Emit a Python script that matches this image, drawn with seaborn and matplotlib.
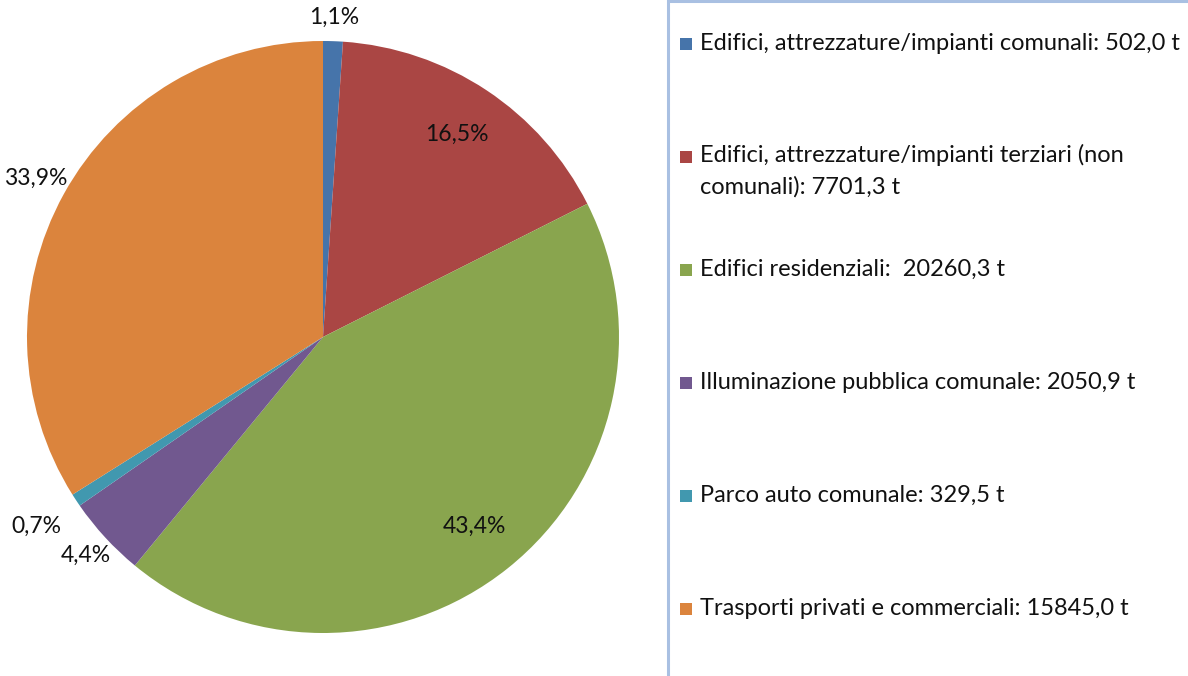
import numpy as np
import matplotlib
matplotlib.use("Agg")
import matplotlib.pyplot as plt
import seaborn as sns
from matplotlib.patches import Rectangle

# data
categories = [
    "Edifici, attrezzature/impianti comunali: 502,0 t",
    "Edifici, attrezzature/impianti terziari (non\ncomunali): 7701,3 t",
    "Edifici residenziali:  20260,3 t",
    "Illuminazione pubblica comunale: 2050,9 t",
    "Parco auto comunale: 329,5 t",
    "Trasporti privati e commerciali: 15845,0 t",
]
emissions_t = [502.0, 7701.3, 20260.3, 2050.9, 329.5, 15845.0]
colors = ["#4674AA", "#AA4644", "#89A54E", "#71588F", "#4198AF", "#DB843D"]

sns.set_theme(style="white")
plt.rcParams["font.family"] = ["Lato", "DejaVu Sans"]

W, H = 1188, 676
fig = plt.figure(figsize=(W / 100, H / 100), dpi=100)

# pie axes: centre ~ (323, 337) px, radius ~296 px
r_px = 296
cx, cy = 323, 337
ax = fig.add_axes([(cx - r_px) / W, (H - cy - r_px) / H, 2 * r_px / W, 2 * r_px / H])

wedges, _ = ax.pie(emissions_t, colors=colors, startangle=90, counterclock=False,
                   radius=1.0, wedgeprops=dict(linewidth=0))
ax.set_xlim(-1, 1)
ax.set_ylim(-1, 1)
ax.axis("off")

# percentage labels
total = sum(emissions_t)
label_r = [1.08, 0.82, 0.82, 1.09, 1.16, 1.11]
for w, v, rr in zip(wedges, emissions_t, label_r):
    ang = np.deg2rad((w.theta1 + w.theta2) / 2)
    txt = f"{100 * v / total:.1f}%".replace(".", ",")
    ax.text(rr * np.cos(ang), rr * np.sin(ang), txt, ha="center", va="center",
            fontsize=16.5, color="#111111")

# legend box (extends past the figure edge)
box_left = 668
fig.patches.append(Rectangle((box_left / W, -0.05), 0.5, 1.05 + 1.5 / H - 0.003,
                             transform=fig.transFigure, facecolor="white",
                             edgecolor="#A9C0E2", linewidth=2.2, zorder=0))

row0, step, line_h = 44, 113, 31
for i, (lab, c) in enumerate(zip(categories, colors)):
    yc = row0 + step * i
    sq = 12
    fig.patches.append(Rectangle((680 / W, (H - yc - sq / 2) / H), sq / W, sq / H,
                                 transform=fig.transFigure, facecolor=c,
                                 edgecolor="none", zorder=2))
    extra = lab.count("\n") * line_h
    fig.text(700 / W, (H - yc - 6 - extra) / H, lab, ha="left", va="baseline",
             fontsize=17, color="#111111", linespacing=1.6)

fig.savefig("out.png", dpi=100, facecolor="white")
